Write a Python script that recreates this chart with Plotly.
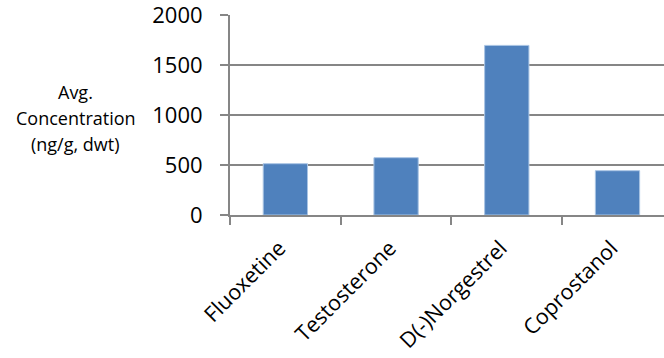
import plotly.graph_objects as go

compounds = ["Fluoxetine", "Testosterone", "D(-)Norgestrel", "Coprostanol"]
avg_concentration = [513, 573, 1696, 443]
y_ticks = [0, 500, 1000, 1500, 2000]
y_title_lines = ["Avg.", "Concentration", "(ng/g, dwt)"]

axis_grey = "#868686"
font_family = "Open Sans, Lato, sans-serif"

fig = go.Figure(
    go.Bar(
        x=compounds,
        y=avg_concentration,
        marker=dict(color="#4f81bd", line=dict(color="#a9c4e4", width=1)),
        width=0.4,
    )
)

# horizontal axis title, one annotation per line for looser line spacing
title_annotations = [
    dict(
        text=line,
        xref="paper",
        yref="paper",
        x=-0.355,
        y=0.615 - 0.13 * i,
        xanchor="center",
        yanchor="middle",
        showarrow=False,
        font=dict(size=18, family=font_family),
    )
    for i, line in enumerate(y_title_lines)
]

fig.update_layout(
    width=664,
    height=358,
    margin=dict(l=230, r=0, t=15, b=143),
    paper_bgcolor="white",
    plot_bgcolor="white",
    showlegend=False,
    font=dict(family=font_family, color="black"),
    xaxis=dict(
        type="category",
        range=[-0.5, 3.42],
        tickangle=-45,
        tickson="boundaries",
        ticks="outside",
        ticklen=8,
        tickcolor=axis_grey,
        tickwidth=2,
        showline=True,
        linecolor=axis_grey,
        linewidth=2,
        showgrid=False,
        automargin=False,
        tickfont=dict(size=21.5, family=font_family),
        ticklabelstandoff=10,
        ticklabelshift=-6,
    ),
    yaxis=dict(
        range=[0, 2000],
        tickvals=y_ticks,
        ticks="outside",
        ticklen=8,
        tickcolor=axis_grey,
        tickwidth=2,
        showline=True,
        linecolor=axis_grey,
        linewidth=2,
        showgrid=True,
        gridcolor=axis_grey,
        gridwidth=2,
        zeroline=False,
        automargin=False,
        tickfont=dict(size=22, family=font_family),
        ticklabelstandoff=13,
        ticklabeloverflow="allow",
    ),
    annotations=title_annotations,
)

fig.write_html("out.html")
